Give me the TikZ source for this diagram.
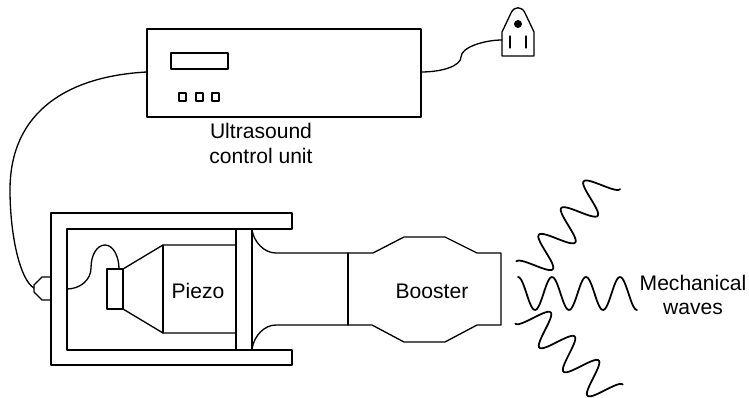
\documentclass[tikz,border=0pt]{standalone}
\usepackage{fontspec}
\setmainfont{Liberation Sans}
\usepackage{xcolor}
\newcommand{\wavepath}[2]{plot[domain=0:#1,samples=90,smooth] (\x,{#2*cos(\x/#1*1260)})}
\begin{document}
\begin{tikzpicture}[x=0.02cm,y=-0.02cm,line width=0.75pt,line join=round,line cap=round,font=\fontsize{12}{14}\selectfont,
  wave/.style={line width=1pt}]
\useasboundingbox (0,0) rectangle (749,398);
\draw (147,29) rectangle (421,117);
\draw (171,53) rectangle (228,69);
\draw (179,93) rectangle (186,101);
\draw (196,93) rectangle (203,101);
\draw (212,93) rectangle (219,101);
\node (unit1) at (261,131) {Ultrasound};
\node (unit2) at (261,156) {control unit};
\draw (502,56) -- (502,32) -- (511,13) .. controls (514,6) and (522,6) .. (525,13) -- (534,32) -- (534,56) -- cycle;
\fill (518,24) circle (4);
\draw (510,36) -- (510,48);
\draw (526,36) -- (526,48);
\coordinate (plugin) at (502,40);
\coordinate (unitright) at (421,72);
\coordinate (unitleft) at (147,72);
\coordinate (tail) at (34,288);
\draw (unitright) .. controls (442,72) and (461,66) .. (461,57) .. controls (461,47) and (485,40) .. (plugin);
\draw (unitleft) .. controls (70,76) and (10,110) .. (10,190) .. controls (10,235) and (20,280) .. (tail);
\draw (51,277) -- (42,277) -- (34,285) -- (34,292) -- (42,300) -- (51,300);
\draw (292,213) -- (51,213) -- (51,365) -- (292,365) -- (292,350) -- (67,350) -- (67,229) -- (292,229) -- cycle;
\draw (236,229) -- (236,350);
\draw (252,229) -- (252,350);
\draw (236,245) -- (163,245) -- (123,269);
\draw (236,333) -- (163,333) -- (123,309);
\draw (163,245) -- (163,333);
\draw (107,269) rectangle (123,309);
\draw (67,289) .. controls (80,289) and (91,280) .. (91,268) .. controls (91,255) and (97,245) .. (105,245) .. controls (113,245) and (119,256) .. (119,269);
\node (piezo) at (198,291) {Piezo};
\draw (252,230) .. controls (254,242) and (264,253) .. (276,253) -- (373,253) -- (404,237) -- (445,237) -- (477,253) -- (501,253) -- (501,325) -- (477,325) -- (445,342) -- (404,342) -- (372,325) -- (276,325) .. controls (264,325) and (254,336) .. (252,349);
\draw (348,253) -- (348,325);
\node (booster) at (432,291) {Booster};
\begin{scope}[shift={(529,272)},rotate=50]
\draw[wave] \wavepath{122}{-16.5};
\end{scope}
\begin{scope}[shift={(518,293.5)}]
\draw[wave] \wavepath{119}{-16.5};
\end{scope}
\begin{scope}[shift={(527,312)},rotate=-45]
\draw[wave] \wavepath{119}{16.5};
\end{scope}
\node (mech1) at (693,283) {Mechanical};
\node (mech2) at (693,309) {waves};
\end{tikzpicture}
\end{document}
